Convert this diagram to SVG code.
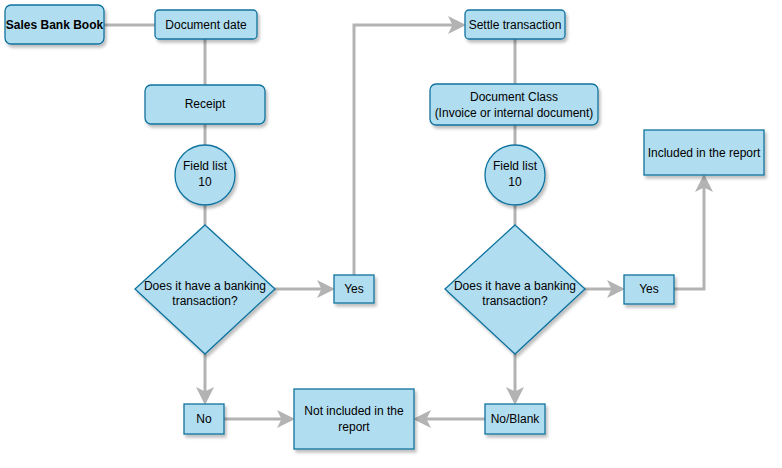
<svg xmlns="http://www.w3.org/2000/svg" width="782" height="468" viewBox="0 0 782 468">
<style>
.n{fill:#b1ddf0;stroke:#10739e;stroke-width:1.3;filter:url(#sh)}
.t{font-family:"Liberation Sans",Arial,sans-serif;font-size:12px;fill:#000;text-anchor:middle}
.c{fill:none;stroke:#b3b3b3;stroke-width:3}
</style>
<defs>
<filter id="sh" x="-20%" y="-20%" width="150%" height="150%"><feDropShadow dx="2" dy="3" stdDeviation="1.5" flood-color="#000" flood-opacity="0.25"/></filter>
<marker id="a" markerWidth="6" markerHeight="6" refX="5" refY="3" orient="auto" markerUnits="strokeWidth"><path d="M0,0 L6,3 L0,6 L1.5,3 Z" fill="#b3b3b3"/></marker>
</defs>
<rect width="782" height="468" fill="#fff"/>
<g id="connectors">
<path class="c" d="M104,25 H155"/>
<path class="c" d="M205,39 V85"/>
<path class="c" d="M205,124 V145"/>
<path class="c" d="M205,205 V225"/>
<path class="c" d="M274,289 H332" marker-end="url(#a)"/>
<path class="c" d="M374,289 H354 V25 H463" marker-end="url(#a)"/>
<path class="c" d="M205,354 V402" marker-end="url(#a)"/>
<path class="c" d="M224,419 H292" marker-end="url(#a)"/>
<path class="c" d="M515,39 V84"/>
<path class="c" d="M515,125 V145"/>
<path class="c" d="M515,205 V225"/>
<path class="c" d="M584,289 H622" marker-end="url(#a)"/>
<path class="c" d="M674,289 H704 V177" marker-end="url(#a)"/>
<path class="c" d="M515,354 V402" marker-end="url(#a)"/>
<path class="c" d="M485,419 H416" marker-end="url(#a)"/>
</g>
<g id="sales"><rect class="n" x="5" y="5" width="99" height="39" rx="6"/><text class="t" x="54.5" y="29" font-weight="bold">Sales Bank Book</text></g>
<g id="docdate"><rect class="n" x="155" y="10" width="102" height="29" rx="4"/><text class="t" x="206" y="29">Document date</text></g>
<g id="receipt"><rect class="n" x="145" y="85" width="120" height="39" rx="6"/><text class="t" x="205" y="108">Receipt</text></g>
<g id="field1"><circle class="n" cx="205" cy="175" r="30"/><text class="t" x="205" y="170">Field list</text><text class="t" x="205" y="186">10</text></g>
<g id="dia1"><path class="n" d="M205,225 L275,289 L205,354 L135,289 Z"/><text class="t" x="205" y="290">Does it have a banking</text><text class="t" x="205" y="305">transaction?</text></g>
<g id="yes1"><rect class="n" x="334" y="275" width="40" height="28"/><text class="t" x="354" y="293">Yes</text></g>
<g id="no"><rect class="n" x="184" y="404" width="40" height="30"/><text class="t" x="204" y="423">No</text></g>
<g id="notinc"><rect class="n" x="294" y="389" width="120" height="60"/><text class="t" x="354" y="415">Not included in the</text><text class="t" x="354" y="431">report</text></g>
<g id="settle"><rect class="n" x="465" y="10" width="100" height="29" rx="4"/><text class="t" x="515" y="29">Settle transaction</text></g>
<g id="docclass"><rect class="n" x="430" y="84" width="168" height="41" rx="6"/><text class="t" x="514" y="101">Document Class</text><text class="t" x="514" y="117">(Invoice or internal document)</text></g>
<g id="field2"><circle class="n" cx="515" cy="175" r="30"/><text class="t" x="515" y="170">Field list</text><text class="t" x="515" y="186">10</text></g>
<g id="dia2"><path class="n" d="M515,225 L585,289 L515,354 L445,289 Z"/><text class="t" x="515" y="290">Does it have a banking</text><text class="t" x="515" y="305">transaction?</text></g>
<g id="yes2"><rect class="n" x="624" y="275" width="50" height="29"/><text class="t" x="649" y="293">Yes</text></g>
<g id="noblank"><rect class="n" x="485" y="404" width="60" height="30"/><text class="t" x="515" y="423">No/Blank</text></g>
<g id="inc"><rect class="n" x="644" y="130" width="120" height="45"/><text class="t" x="704" y="157">Included in the report</text></g>
</svg>
